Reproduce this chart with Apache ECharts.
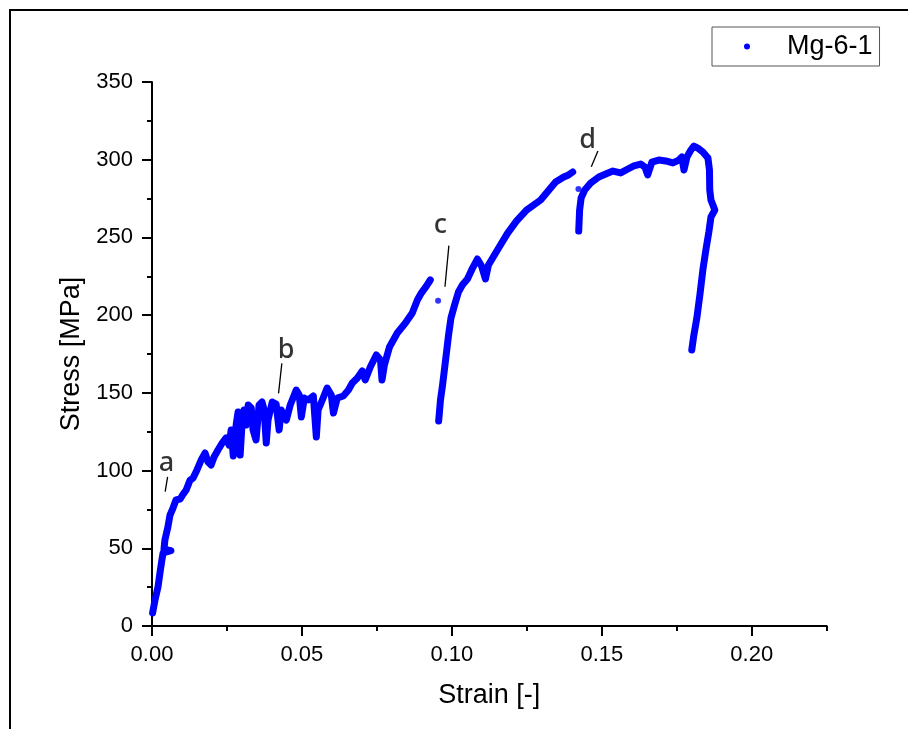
<!DOCTYPE html>
<html><head><meta charset="utf-8">
<script src="https://cdn.jsdelivr.net/npm/echarts@6/dist/echarts.min.js"></script>
<style>html,body{margin:0;padding:0;background:#fff}#c{width:908px;height:729px}</style>
</head><body><div id="c"></div>
<script>
const seriesName = 'Mg-6-1';
const xTitle = 'Strain [-]';
const yTitle = 'Stress [MPa]';

// segment from origin up to ~0.093 strain
const segA = [
[0.0002,8.4],[0.0010,16.7],[0.0020,25.1],[0.0027,34.7],[0.0032,41.2],[0.0037,47.0],[0.0063,48.5],[0.0040,49.5],
[0.0043,55.3],[0.0053,63.7],[0.0060,71.4],[0.0070,75.9],[0.0080,81.1],[0.0094,81.7],[0.0104,84.9],[0.0114,87.5],
[0.0127,93.9],[0.0137,95.2],[0.0150,100.4],[0.0164,106.8],[0.0177,111.3],[0.0187,105.5],[0.0197,103.6],[0.0207,108.7],
[0.0220,113.2],[0.0234,117.7],[0.0247,121.0],[0.0257,116.4],[0.0264,126.1],[0.0271,109.4],[0.0281,130.0],[0.0287,137.7],
[0.0294,110.0],[0.0301,132.5],[0.0307,139.0],[0.0314,129.3],[0.0321,142.2],[0.0331,140.3],[0.0337,126.1],[0.0347,119.7],
[0.0357,142.2],[0.0367,144.1],[0.0374,139.0],[0.0381,117.7],[0.0387,132.5],[0.0401,144.1],[0.0414,142.8],[0.0424,126.1],
[0.0431,139.0],[0.0448,132.5],[0.0461,142.2],[0.0481,151.8],[0.0491,148.6],[0.0498,134.5],[0.0508,146.7],[0.0521,145.4],
[0.0538,148.0],[0.0548,121.6],[0.0554,139.0],[0.0568,145.4],[0.0584,153.1],[0.0598,148.6],[0.0605,137.0],[0.0618,146.7],
[0.0638,148.0],[0.0655,151.8],[0.0668,156.3],[0.0685,159.6],[0.0701,164.1],[0.0711,158.3],[0.0728,166.6],[0.0748,174.4],
[0.0762,171.1],[0.0767,158.3],[0.0775,167.9],[0.0792,179.5],[0.0818,188.5],[0.0845,194.9],[0.0868,201.4],[0.0885,209.7],
[0.0898,214.2],[0.0915,218.7],[0.0928,222.6]
];
const dotC = [[0.0954,209.3]];
// reload after drop at c, up to ~0.140 strain
const segB = [
[0.0956,131.9],[0.0962,145.4],[0.0969,155.1],[0.0979,171.1],[0.0989,187.2],[0.0997,198.2],[0.1009,206.5],[0.1022,214.9],
[0.1035,219.4],[0.1052,223.3],[0.1069,230.3],[0.1085,236.1],[0.1099,231.6],[0.1112,223.3],[0.1122,232.3],[0.1136,236.8],
[0.1162,245.1],[0.1186,252.8],[0.1216,260.6],[0.1249,267.6],[0.1296,274.1],[0.1346,285.7],[0.1373,288.9],[0.1389,290.2],
[0.1403,292.1]
];
const dotD = [[0.1422,281.2]];
// reload after drop at d, to failure
const segC = [
[0.1423,254.1],[0.1426,267.6],[0.1431,275.4],[0.1443,280.5],[0.1463,285.0],[0.1490,288.9],[0.1513,290.8],[0.1537,292.7],
[0.1563,291.5],[0.1587,294.0],[0.1607,296.0],[0.1630,297.2],[0.1644,295.3],[0.1653,290.2],[0.1667,298.5],[0.1690,299.8],
[0.1713,299.2],[0.1737,297.9],[0.1757,299.8],[0.1767,301.7],[0.1774,293.4],[0.1784,301.7],[0.1797,306.2],[0.1807,308.8],
[0.1820,307.5],[0.1837,305.0],[0.1854,301.1],[0.1859,293.4],[0.1860,280.5],[0.1864,274.1],[0.1877,267.6],[0.1864,263.1],
[0.1857,253.5],[0.1847,241.9],[0.1837,229.0],[0.1827,212.9],[0.1817,198.2],[0.1807,187.2],[0.1800,177.6]
];

// annotation letters and their pointer lines (data coordinates)
const annotLetters = ['a','b','c','d'];
const annotPos = [[0.0048,104.5],[0.0447,177.5],[0.0962,258],[0.1453,312.5]];
const annotLines = [
[[0.0052,96.0],[0.0044,86.5]],
[[0.0433,169.0],[0.0422,149.7]],
[[0.0990,244.7],[0.0977,218.3]],
[[0.1487,305.6],[0.1465,295.5]]
];

const BLUE = '#0000ff';
const PL = 152, PT = 82, PW = 674.7, PH = 544;
const chart = echarts.init(document.getElementById('c'), null, {renderer:'canvas'});

const lineSeries = [segA, segB, segC].map(d => ({
  type:'line', name:seriesName, data:d, xAxisIndex:0, yAxisIndex:0,
  showSymbol:false, symbol:'circle', symbolSize:6,
  lineStyle:{color:BLUE, width:7, cap:'round', join:'round'},
  itemStyle:{color:BLUE}, z:3
}));
const dotSeries = [dotC, dotD].map(d => ({
  type:'scatter', name:seriesName, data:d, xAxisIndex:0, yAxisIndex:0,
  symbol:'circle', symbolSize:6, itemStyle:{color:BLUE}, z:3
}));
const annotLineSeries = annotLines.map((d,i) => ({
  type:'line', name:'ann'+i, data:d, xAxisIndex:0, yAxisIndex:0,
  showSymbol:false, symbol:'none', lineStyle:{color:'#000', width:1.3}, z:4
}));
const annotTextSeries = {
  type:'scatter', name:'annText', xAxisIndex:0, yAxisIndex:0,
  data: annotLetters.map((n,i) => ({name:n, value:annotPos[i]})),
  symbol:'circle', symbolSize:0.5, itemStyle:{color:'#ffffff'},
  label:{show:true, position:'inside', formatter:'{b}', fontSize:27, fontFamily:'Noto Sans',
    fontWeight:500, color:'#000000', textBorderWidth:0}, z:5
};

const axisCol = '#000';
chart.setOption({
  animation:false,
  backgroundColor:'#fff',
  graphic:[{type:'rect', silent:true, z:-10, shape:{x:10,y:10,width:1000,height:1000},
    style:{fill:'none', stroke:'#000', lineWidth:2}}],
  grid:[
    {left:PL, top:PT, width:PW, height:PH},
    {left:PL, top:PT, width:PW*0.2/0.225, height:PH}
  ],
  legend:{
    data:[{name:seriesName, icon:'circle'}],
    left:712, top:27, orient:'vertical',
    itemWidth:6, itemHeight:6,
    padding:[6,7,6,32],
    borderColor:'#555', borderWidth:1,
    textStyle:{fontSize:27, fontFamily:'Liberation Sans', color:'#000', padding:[0,0,0,32]},
    selectedMode:false
  },
  xAxis:[
    {gridIndex:0, type:'value', min:0, max:0.225, interval:0.025,
     name:xTitle, nameLocation:'middle', nameGap:56,
     nameTextStyle:{fontSize:27, fontFamily:'Liberation Sans', color:'#000'},
     axisLine:{show:true, onZero:false, lineStyle:{color:axisCol, width:2}},
     axisTick:{show:true, length:5, lineStyle:{color:axisCol, width:2}},
     axisLabel:{fontSize:22, fontFamily:'Liberation Sans', color:'#000', margin:18,
       formatter:v => (Math.round(v/0.025)%2===0 ? v.toFixed(2) : ''), showMaxLabel:true},
     splitLine:{show:false}},
    {gridIndex:1, type:'value', min:0, max:0.2, interval:0.05,
     axisLine:{show:false},
     axisTick:{show:true, length:10, lineStyle:{color:axisCol, width:2}},
     axisLabel:{show:false}, splitLine:{show:false}}
  ],
  yAxis:[
    {gridIndex:0, type:'value', min:0, max:350, interval:50,
     name:yTitle, nameLocation:'middle', nameGap:59,
     nameTextStyle:{fontSize:27, fontFamily:'Liberation Sans', color:'#000'},
     axisLine:{show:true, onZero:false, lineStyle:{color:axisCol, width:2}},
     axisTick:{show:true, length:10, lineStyle:{color:axisCol, width:2}},
     minorTick:{show:true, splitNumber:2, length:5, lineStyle:{color:axisCol, width:2}},
     axisLabel:{fontSize:22, fontFamily:'Liberation Sans', color:'#000', margin:19},
     splitLine:{show:false}, minorSplitLine:{show:false}},
    {gridIndex:1, type:'value', min:0, max:350, show:false}
  ],
  series:[...lineSeries, ...dotSeries, ...annotLineSeries, annotTextSeries]
});
</script>
</body></html>
